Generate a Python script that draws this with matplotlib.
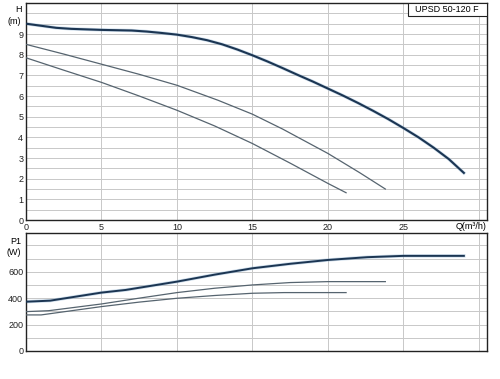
import matplotlib
matplotlib.use("Agg")
import matplotlib.pyplot as plt
from matplotlib.patches import Rectangle
import numpy as np

plt.rcParams['font.family'] = ['Liberation Sans', 'DejaVu Sans']

# Head curves (Q in m3/h, H in m)
q1 = [0, 1, 2, 3, 5, 7, 8, 9, 10, 11, 12, 13, 14, 15, 16, 17, 18, 19, 20,
      21, 22, 23, 24, 25, 26, 27, 28, 29]
h1 = [9.5, 9.4, 9.3, 9.25, 9.2, 9.17, 9.12, 9.05, 8.97, 8.85, 8.7, 8.5, 8.25,
      7.97, 7.67, 7.35, 7.02, 6.7, 6.36, 6.02, 5.66, 5.28, 4.88, 4.45, 4.0,
      3.5, 2.95, 2.28]
q2 = [0, 2.5, 5, 7.5, 10, 12.7, 15, 17, 20, 22.1, 23.8]
h2 = [8.5, 8.03, 7.54, 7.05, 6.52, 5.8, 5.12, 4.4, 3.22, 2.29, 1.5]
q3 = [0, 2.5, 5, 7.5, 10, 12.5, 15, 17.5, 20, 21.2]
h3 = [7.85, 7.25, 6.66, 6.0, 5.31, 4.55, 3.7, 2.75, 1.77, 1.32]

# Power curves (P1 in W)
pq1 = [0, 1.6, 5, 6.6, 10, 12.5, 15, 17.5, 20, 22.6, 25, 29]
p1 = [373, 381, 442, 462, 525, 578, 626, 660, 689, 710, 720, 720]
pq2 = [0, 1.5, 5, 7.5, 10, 12.5, 15, 17.5, 20, 23.8]
p2 = [298, 305, 356, 400, 442, 475, 500, 518, 525, 525]
pq3 = [0, 1.0, 5, 7.5, 10, 12.5, 15, 17.1, 21.2]
p3 = [273, 273, 336, 370, 399, 420, 437, 442, 442]

x_ticks = [0, 5, 10, 15, 20, 25]
h_ticks = [0, 1, 2, 3, 4, 5, 6, 7, 8, 9]
p_ticks = [0, 200, 400, 600]
title = "UPSD 50-120 F"

fig = plt.figure(figsize=(5.0, 3.79), dpi=100)
ax1 = fig.add_axes([0.052, 0.4195, 0.921, 0.5725])
ax2 = fig.add_axes([0.052, 0.0739, 0.921, 0.312])

grid_c = '#c8c8c8'
thick_c = '#1b3552'
thin_c = '#56646f'

for ax in (ax1, ax2):
    ax.set_xlim(0, 30.5)
    for xv in [5, 10, 15, 20, 25, 30]:
        ax.axvline(xv, color=grid_c, lw=0.7, zorder=0)
    for s in ax.spines.values():
        s.set_color('#222222')
        s.set_linewidth(1.0)
    ax.tick_params(length=0, labelsize=6.5, colors='#222222', pad=2)

# top panel
ax1.set_ylim(0, 10.5)
for yv in np.arange(0.5, 10.5, 0.5):
    ax1.axhline(yv, color=grid_c, lw=0.7, zorder=0)
ax1.set_yticks(h_ticks)
ax1.set_xticks(x_ticks)
ax1.plot(q1, h1, color='#8fb3d3', lw=2.4, zorder=2, alpha=0.45)
ax1.plot(q1, h1, color=thick_c, lw=1.5, zorder=3)
ax1.plot(q2, h2, color=thin_c, lw=0.9, zorder=3)
ax1.plot(q3, h3, color=thin_c, lw=0.9, zorder=3)
ax1.text(-0.3, 10.2, "H", fontsize=6.5, ha='right', va='center', clip_on=False)
ax1.text(-0.3, 9.6, "(m)", fontsize=6.5, ha='right', va='center', clip_on=False)
ax1.text(29.5, -0.12, "Q(m³/h)", fontsize=6.5, ha='center', va='top', clip_on=False)
bw, bh = 0.171, 0.06
ax1.add_patch(Rectangle((1 - bw, 1 - bh), bw, bh, transform=ax1.transAxes,
                        fc='white', ec='#222222', lw=0.8, zorder=5))
ax1.text(1 - bw / 2, 1 - bh / 2, title, transform=ax1.transAxes, fontsize=6.5,
         ha='center', va='center', zorder=6)

# bottom panel
ax2.set_ylim(0, 895)
for yv in range(100, 900, 100):
    ax2.axhline(yv, color=grid_c, lw=0.7, zorder=0)
ax2.set_yticks(p_ticks)
ax2.set_xticks([])
ax2.plot(pq1, p1, color='#8fb3d3', lw=2.4, zorder=2, alpha=0.45)
ax2.plot(pq1, p1, color=thick_c, lw=1.4, zorder=3)
ax2.plot(pq2, p2, color=thin_c, lw=0.9, zorder=3)
ax2.plot(pq3, p3, color=thin_c, lw=0.9, zorder=3)
ax2.text(-0.3, 830, "P1", fontsize=6.5, ha='right', va='center', clip_on=False)
ax2.text(-0.3, 745, "(W)", fontsize=6.5, ha='right', va='center', clip_on=False)

fig.savefig("out.png", dpi=100)
